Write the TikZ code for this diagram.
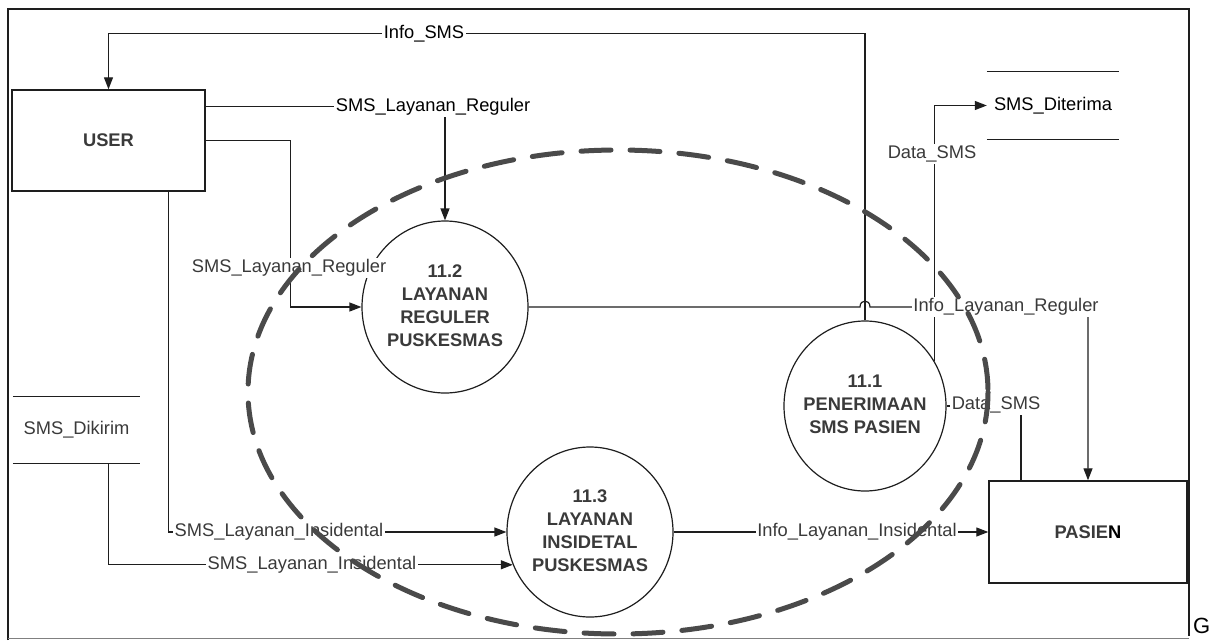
\documentclass[tikz,border=0pt]{standalone}
\usepackage{fontspec}
\setmainfont{Liberation Sans}
\usetikzlibrary{arrows.meta,shapes.geometric,calc}
\pgfdeclarelayer{bg}
\pgfdeclarelayer{fg}
\pgfsetlayers{bg,main,fg}
\definecolor{ink}{HTML}{1E1E1E}
\definecolor{txt}{HTML}{3A3A3A}
\definecolor{dashc}{HTML}{4A4A4A}
\begin{document}
\begin{tikzpicture}[x=1pt,y=-1pt,
  every node/.style={font=\fontsize{18.3}{23}\selectfont, text=txt},
  flow/.style={draw=ink, line width=1.2pt},
  arr/.style={flow, -{Triangle[length=12pt,width=9pt]}},
  entity/.style={draw=ink, line width=1.4pt, rectangle, inner sep=0pt, font=\bfseries\fontsize{18.3}{23}\selectfont},
  proc/.style={draw=ink, line width=1.2pt, ellipse, inner sep=0pt, font=\bfseries\fontsize{18.3}{23}\selectfont},
  lbl/.style={fill=white, inner sep=1.5pt},
  store/.style={inner sep=0pt},
  storeline/.style={draw=ink, line width=1.1pt}
]
\useasboundingbox (0,0) rectangle (1221,640);

% entities
\node[entity, minimum width=193pt, minimum height=101pt] (user) at (108.5,140.5) {USER};
\node[entity, minimum width=198pt, minimum height=102pt] (pasien) at (1088,532) {PASIE\textcolor{black}{N}};

% processes
\node[proc, minimum width=166pt, minimum height=172pt] (p12) at (445,307)
  {\makebox[0pt]{\begin{tabular}{@{}c@{}}11.2\\LAYANAN\\REGULER\\PUSKESMAS\end{tabular}}};
\node[proc, minimum width=162pt, minimum height=170pt] (p11) at (865,406)
  {\makebox[0pt]{\begin{tabular}{@{}c@{}}11.1\\PENERIMAAN\\SMS PASIEN\end{tabular}}};
\node[proc, minimum width=166pt, minimum height=170pt] (p13) at (590,532)
  {\makebox[0pt]{\begin{tabular}{@{}c@{}}11.3\\LAYANAN\\INSIDETAL\\PUSKESMAS\end{tabular}}};

% data stores
\node[store, minimum width=132pt, minimum height=67pt, text=black] (std) at (1053,105.5) {SMS\_Diterima};
\node[store, minimum width=127pt, minimum height=67pt] (sdk) at (76.5,430) {SMS\_Dikirim};
\draw[storeline] (std.north west) -- (std.north east) (std.south west) -- (std.south east);
\draw[storeline] (sdk.north west) -- (sdk.north east) (sdk.south west) -- (sdk.south east);

% flow labels
\node[lbl, text=black] (lInfoSMS) at (424,34) {Info\_SMS};
\node[lbl, text=black] (lReg1) at (433,107) {SMS\_Layanan\_Reguler};
\node[lbl] (lReg2) at (289,268) {SMS\_Layanan\_Reguler};
\node[lbl] (lILR) at (1006,307) {Info\_Layanan\_Reguler};
\node[lbl] (lData1) at (932,154) {Data\_SMS};
\node[lbl] (lData2) at (996,405) {Data\_SMS};
\node[lbl] (lIns1) at (279,532) {SMS\_Layanan\_Insidental};
\node[lbl] (lIns2) at (312,565) {SMS\_Layanan\_Insidental};
\node[lbl] (lILI) at (857,532) {Info\_Layanan\_Insidental};

\node[font=\fontsize{22}{22}\selectfont, text=black, anchor=north west, inner sep=0pt] (gch) at (1193,618) {G};

\begin{pgfonlayer}{bg}
  \fill[white] (0,0) rectangle (1221,640);
  % Info_SMS
  \draw[arr] (p11.north) |- ($(user.north)+(0,-56)$) -- (user.north);
  % SMS_Layanan_Reguler (top)
  \draw[arr] ($(user.north east)+(0,17)$) -| (p12.north);
  % SMS_Layanan_Reguler (second)
  \draw[arr] (user.east) -| ($(p12.west)+(-71,0)$) -- (p12.west);
  % Info_Layanan_Reguler with hop
  \coordinate (hopC) at (p11.north |- p12.east);
  \draw[arr] (p12.east) -- ($(hopC)+(-5,0)$)
     .. controls ($(hopC)+(-5,-8)$) and ($(hopC)+(5,-8)$) .. ($(hopC)+(5,0)$)
     -| (pasien.north);
  % Data_SMS to store
  \draw[arr] (p11.33) |- (std.west);
  % Data_SMS from PASIEN
  \draw[flow] ($(pasien.north)+(-67,0)$) |- (p11.east);
  % SMS_Layanan_Insidental
  \draw[arr] ($(user.south east)+(-37,0)$) |- (p13.west);
  \draw[arr] ($(sdk.south)+(32,0)$) |- (p13.203);
  % Info_Layanan_Insidental
  \draw[arr] (p13.east) -- (pasien.west);
\end{pgfonlayer}

\begin{pgfonlayer}{fg}
  \draw[dashc, line width=5pt, dash pattern=on 30pt off 19pt, line cap=round]
    (618,392) ellipse [x radius=370, y radius=242];
  \draw[ink, line width=1.5pt] (8,640) -- (8,9) -- (1189,9) -- (1189,636);
  \draw[gray, line width=1pt] (8,638) -- (1189,638);
\end{pgfonlayer}
\end{tikzpicture}
\end{document}
